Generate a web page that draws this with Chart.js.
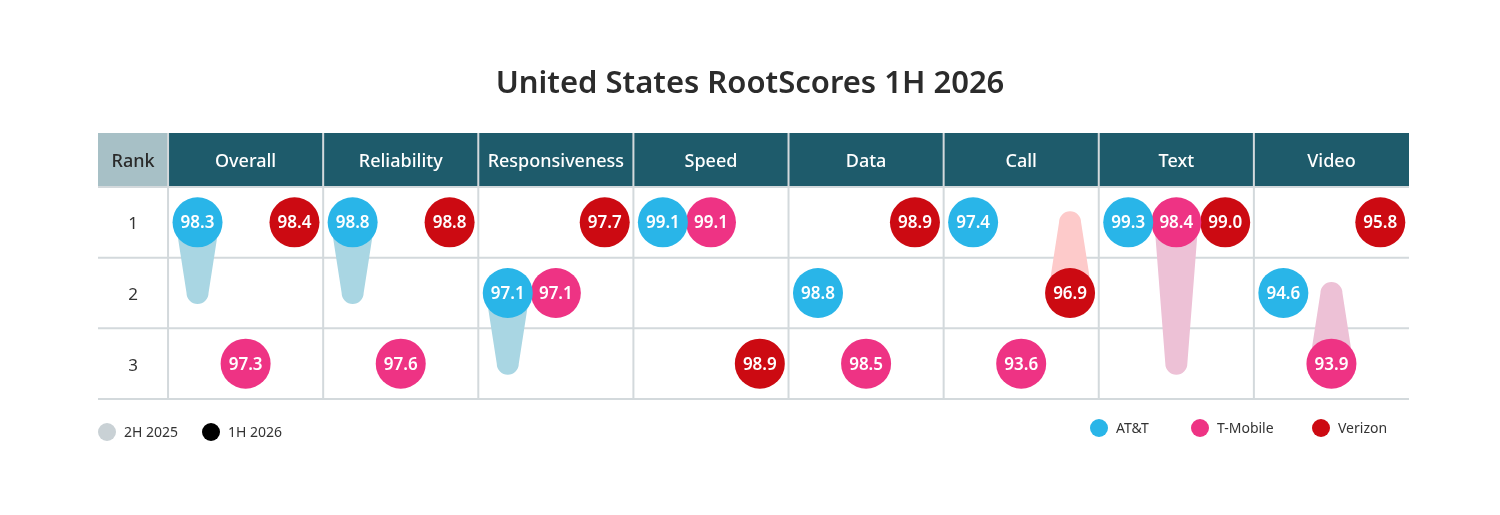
<!DOCTYPE html>
<html>
<head>
<meta charset="utf-8">
<title>United States RootScores 1H 2026</title>
<script src="https://cdn.jsdelivr.net/npm/chart.js@4.4.1/dist/chart.umd.min.js"></script>
<style>
  body { margin: 0; background: #fff; font-family: "Noto Sans", sans-serif; }
  #wrap { position: relative; width: 1500px; height: 515px; }
  #title { position: absolute; top: 60px; left: 0; width: 1500px; text-align: center;
           font-size: 31px; font-weight: 600; color: #2b2b2b; }
  .leg { position: absolute; display: flex; align-items: center; font-size: 14px; color: #333; }
  .leg .dot { width: 18px; height: 18px; border-radius: 50%; margin-right: 8px; }
  canvas { position: absolute; left: 0; top: 0; }
</style>
</head>
<body>
<div id="wrap">
  <canvas id="rootChart" width="1500" height="515"></canvas>
  <div id="title">United States RootScores 1H 2026</div>
  <div class="leg" style="left:98px; top:422px;"><span class="dot" style="background:#c9d1d5"></span>2H 2025</div>
  <div class="leg" style="left:202px; top:422px;"><span class="dot" style="background:#000"></span>1H 2026</div>
  <div class="leg" style="left:1090px; top:418px;"><span class="dot" style="background:#29b5e8"></span>AT&amp;T</div>
  <div class="leg" style="left:1191px; top:418px;"><span class="dot" style="background:#ee3384"></span>T-Mobile</div>
  <div class="leg" style="left:1312px; top:418px;"><span class="dot" style="background:#cc0a12"></span>Verizon</div>
</div>
<script>
// ---------------- data ----------------
const categories = ["Overall", "Reliability", "Responsiveness", "Speed", "Data", "Call", "Text", "Video"];
const rankLabels = ["1", "2", "3"];
const carriers = ["AT&T", "T-Mobile", "Verizon"];

// 1H 2026 scores, current ranks and 2H 2025 ranks
const attScores = [98.3, 98.8, 97.1, 99.1, 98.8, 97.4, 99.3, 94.6];
const attRanks = [1, 1, 2, 1, 2, 1, 1, 2];
const attPrevRanks = [2, 2, 3, 1, 2, 1, 1, 2];

const tmoScores = [97.3, 97.6, 97.1, 99.1, 98.5, 93.6, 98.4, 93.9];
const tmoRanks = [3, 3, 2, 1, 3, 3, 1, 3];
const tmoPrevRanks = [3, 3, 2, 1, 3, 3, 3, 2];

const vzScores = [98.4, 98.8, 97.7, 98.9, 98.9, 96.9, 99.0, 95.8];
const vzRanks = [1, 1, 1, 3, 1, 2, 1, 1];
const vzPrevRanks = [1, 1, 1, 3, 1, 1, 1, 1];

// ---------------- style ----------------
const carrierColors = ["#29b5e8", "#ee3384", "#cc0a12"];
const tailColors = ["#a9d6e3", "#edc1d6", "#fdcaca"];
const slot = [0.19, 0.5, 0.815]; // position of each carrier inside a column
const headerColor = "#1e5b6b";
const rankHeadColor = "#a7c0c6";
const gridColor = "#d3d9dc";

const series = [
  { scores: attScores, ranks: attRanks, prev: attPrevRanks },
  { scores: tmoScores, ranks: tmoRanks, prev: tmoPrevRanks },
  { scores: vzScores, ranks: vzRanks, prev: vzPrevRanks },
];

const datasets = carriers.map((name, k) => ({
  label: name,
  data: categories.map((c, i) => ({
    x: i + slot[k],
    y: series[k].ranks[i],
    score: series[k].scores[i],
    prev: series[k].prev[i],
  })),
  backgroundColor: carrierColors[k],
  borderWidth: 0,
  radius: 25,
  hoverRadius: 0,
}));

function drawTail(ctx, x, y0, y1, w0, w1, color) {
  const down = y1 > y0;
  ctx.save();
  ctx.fillStyle = color;
  ctx.beginPath();
  ctx.moveTo(x - w0, y0);
  ctx.lineTo(x - w1, y1);
  ctx.arc(x, y1, w1, Math.PI, 0, down);
  ctx.lineTo(x + w0, y0);
  ctx.closePath();
  ctx.fill();
  ctx.restore();
}

// table: header, grid, row labels and rank-change tails
const tablePlugin = {
  id: "table",
  beforeDatasetsDraw(chart) {
    const { ctx, scales: { x, y } } = chart;
    const top = y.getPixelForValue(y.min);
    const headBottom = y.getPixelForValue(0.5);
    const bottom = y.getPixelForValue(y.max);
    const left = x.getPixelForValue(x.min);
    const right = x.getPixelForValue(x.max);
    const x0 = x.getPixelForValue(0);

    ctx.save();
    // header
    ctx.fillStyle = rankHeadColor;
    ctx.fillRect(left, top, x0 - left, headBottom - top);
    ctx.fillStyle = headerColor;
    ctx.fillRect(x0, top, right - x0, headBottom - top);

    // grid
    ctx.strokeStyle = gridColor;
    ctx.lineWidth = 2;
    categories.forEach((c, i) => {
      const px = x.getPixelForValue(i);
      ctx.beginPath();
      ctx.moveTo(px, top);
      ctx.lineTo(px, bottom);
      ctx.stroke();
    });
    [0.5, 1.5, 2.5, 3.5].forEach((v) => {
      const py = y.getPixelForValue(v);
      ctx.beginPath();
      ctx.moveTo(left, py);
      ctx.lineTo(right, py);
      ctx.stroke();
    });

    // header labels
    const headMid = (top + headBottom) / 2 + 2;
    ctx.textAlign = "center";
    ctx.textBaseline = "middle";
    ctx.font = "500 18px 'Noto Sans'";
    ctx.fillStyle = "#2a2a2a";
    ctx.fillText("Rank", (left + x0) / 2, headMid);
    ctx.fillStyle = "#ffffff";
    categories.forEach((c, i) => {
      ctx.fillText(c, x.getPixelForValue(i + 0.5), headMid);
    });

    // rank labels
    ctx.font = "400 17px 'Noto Sans'";
    ctx.fillStyle = "#333";
    rankLabels.forEach((r, j) => {
      ctx.fillText(r, (left + x0) / 2, y.getPixelForValue(j + 1) + 2);
    });

    // tails from previous rank
    chart.data.datasets.forEach((ds, k) => {
      ds.data.forEach((d) => {
        if (d.prev === d.y) return;
        drawTail(ctx, x.getPixelForValue(d.x), y.getPixelForValue(d.y),
          y.getPixelForValue(d.prev), 22, 11, tailColors[k]);
      });
    });
    ctx.restore();
  },
  afterDatasetsDraw(chart) {
    const { ctx } = chart;
    ctx.save();
    ctx.textAlign = "center";
    ctx.textBaseline = "middle";
    ctx.font = "600 17px 'Noto Sans'";
    ctx.fillStyle = "#ffffff";
    chart.data.datasets.forEach((ds, k) => {
      const meta = chart.getDatasetMeta(k);
      meta.data.forEach((pt, i) => {
        ctx.fillText(ds.data[i].score.toFixed(1), pt.x, pt.y + 1);
      });
    });
    ctx.restore();
  },
};

new Chart(document.getElementById("rootChart"), {
  type: "bubble",
  data: { datasets },
  plugins: [tablePlugin],
  options: {
    responsive: false,
    animation: false,
    events: [],
    layout: { padding: { left: 98, right: 91, top: 133, bottom: 116 } },
    scales: {
      x: { type: "linear", display: false, min: -70 / 155, max: 8 },
      y: { type: "linear", display: false, reverse: true, min: 0.5 - 54 / 70.67, max: 3.5 },
    },
    plugins: { legend: { display: false }, tooltip: { enabled: false } },
  },
});
</script>
</body>
</html>
